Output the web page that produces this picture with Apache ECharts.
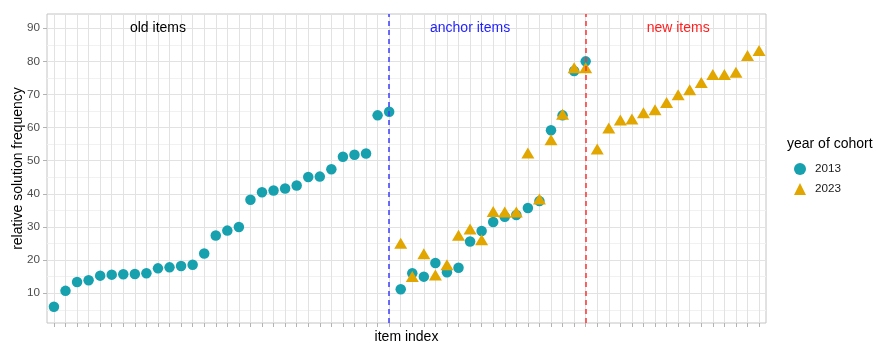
<!DOCTYPE html>
<html>
<head>
<meta charset="utf-8">
<script src="https://cdn.jsdelivr.net/npm/echarts@6/dist/echarts.min.js"></script>
<style>
  html, body { margin: 0; padding: 0; background: #ffffff; }
  #chart { width: 876px; height: 343px; }
</style>
</head>
<body>
<div id="chart"></div>
<script>
// Item indices and relative solution frequencies per cohort
const idx2013 = [
  1, 2, 3, 4, 5, 6, 7, 8, 9, 10, 11, 12, 13, 14, 15, 16, 17, 18, 19, 20,
  21, 22, 23, 24, 25, 26, 27, 28, 29, 30, 31, 32, 33, 34, 35, 36, 37, 38, 39, 40,
  41, 42, 43, 44, 45, 46, 47
];
const freq2013 = [
  5.9, 10.7, 13.4, 13.9, 15.3, 15.6, 15.7, 15.8, 16.0, 17.5, 17.8, 18.2, 18.6, 22.0, 27.4, 28.9, 30.0, 38.2, 40.5, 41.0,
  41.6, 42.5, 45.1, 45.2, 47.4, 51.2, 51.8, 52.2, 63.7, 64.8, 11.2, 16.0, 15.0, 19.1, 16.3, 17.7, 25.6, 28.8, 31.5, 33.1,
  33.6, 35.7, 37.8, 59.2, 63.7, 77.1, 80.0
];
const idx2023 = [
  31, 32, 33, 34, 35, 36, 37, 38, 39, 40, 41, 42, 43, 44, 45, 46,
  47, 48, 49, 50, 51, 52, 53, 54, 55, 56, 57, 58, 59, 60, 61, 62
];
const freq2023 = [
  24.5, 14.4, 21.3, 14.9, 18.0, 26.9, 28.8, 25.5, 34.1, 33.9, 33.9, 51.7, 37.8, 55.7, 63.4, 77.5,
  77.5, 52.9, 59.3, 61.7, 62.0, 63.9, 64.8, 67.0, 69.3, 70.8, 73.0, 75.4, 75.4, 76.1, 81.2, 82.7
];

// Block boundaries and block labels
const boundaryIdx = [30, 47];
const blockNames = ['old items', 'anchor items', 'new items'];
const blockNameIdx = [10, 37, 55];
const blockNameY = 90;

const itemTicks = idx2013.concat(idx2023.slice(idx2023.length - 15));
const yMajor = [10, 20, 30, 40, 50, 60, 70, 80, 90];
const yMinor = [5, 15, 25, 35, 45, 55, 65, 75, 85];

const FONT = '"Liberation Sans", Arial, Helvetica, sans-serif';
const colTeal = '#17a1ae';
const colGold = '#e2a600';
const blockColors = ['#000000', '#1f1fff', '#ff1f1f'];
const lineColors = ['#3d3dff', '#ff3030'];

const chart = echarts.init(document.getElementById('chart'), null, { renderer: 'canvas' });

const pts2013 = idx2013.map((x, i) => [x, freq2013[i]]);
const pts2023 = idx2023.map((x, i) => [x, freq2023[i]]);

const option = {
  animation: false,
  backgroundColor: '#ffffff',
  textStyle: { fontFamily: FONT },
  grid: {
    left: 47, right: 110, top: 14, bottom: 20,
    containLabel: false,
    outerBoundsMode: 'none',
    show: true, borderColor: '#c4c4c4', borderWidth: 1, backgroundColor: 'transparent'
  },
  xAxis: {
    type: 'value',
    min: 0.4, max: 62.6,
    name: 'item index',
    nameLocation: 'middle',
    nameGap: 7,
    nameMoveOverlap: false,
    nameTextStyle: { fontSize: 14, color: '#000000', fontFamily: FONT },
    axisLine: { show: false },
    axisTick: { show: true, length: 4, lineStyle: { color: '#b3b3b3', width: 1 }, customValues: itemTicks },
    axisLabel: { show: false },
    splitLine: { show: true, lineStyle: { color: '#e2e2e2', width: 1 } }
  },
  yAxis: [
    {
      type: 'value',
      min: 1.0, max: 94.3,
      name: 'relative solution frequency',
      nameLocation: 'middle',
      nameGap: 22,
      nameMoveOverlap: false,
      nameTextStyle: { fontSize: 14, color: '#000000', fontFamily: FONT },
      axisLine: { show: false },
      axisTick: { show: true, length: 4, lineStyle: { color: '#b3b3b3', width: 1 }, customValues: yMajor },
      axisLabel: { show: true, margin: 7, fontSize: 11.7, color: '#4d4d4d', fontFamily: FONT, customValues: yMajor },
      splitLine: { show: true, lineStyle: { color: '#e2e2e2', width: 1 } }
    },
    {
      type: 'value',
      min: 1.0, max: 94.3,
      position: 'left',
      axisLine: { show: false },
      axisTick: { show: false, customValues: yMinor },
      axisLabel: { show: false, customValues: yMinor },
      splitLine: { show: true, lineStyle: { color: '#f1f1f1', width: 1 } }
    }
  ],
  legend: {
    orient: 'vertical',
    left: 789, top: 158,
    itemWidth: 12, itemHeight: 12,
    itemGap: 8,
    textStyle: { fontSize: 11.7, color: '#1a1a1a', fontFamily: FONT, padding: [0, 0, 0, 4] },
    data: [
      { name: '2013', icon: 'circle' },
      { name: '2023', icon: 'triangle' }
    ]
  },
  graphic: [
    {
      type: 'text', left: 787, top: 137,
      style: { text: 'year of cohort', fontSize: 14, fill: '#000000', fontFamily: FONT }
    }
  ],
  series: [
    {
      name: '2013',
      type: 'scatter',
      symbol: 'circle',
      symbolSize: 10.5,
      itemStyle: { color: colTeal, opacity: 1 },
      data: pts2013,
      z: 3,
      markLine: {
        silent: true,
        symbol: 'none',
        label: { show: false },
        data: boundaryIdx.map((x, i) => ({
          xAxis: x,
          lineStyle: { color: lineColors[i], type: [5, 4], width: 1.5, opacity: 1 }
        }))
      }
    },
    {
      name: '2023',
      type: 'scatter',
      symbol: 'triangle',
      symbolSize: [13, 11],
      symbolOffset: [0, -2],
      itemStyle: { color: colGold, opacity: 1 },
      data: pts2023,
      z: 4
    },
    {
      name: 'blocks',
      type: 'scatter',
      symbolSize: 0,
      silent: true,
      data: blockNames.map((n, i) => ({
        name: n,
        value: [blockNameIdx[i], blockNameY],
        label: { color: blockColors[i] }
      })),
      label: {
        show: true,
        position: 'inside',
        formatter: p => p.name,
        fontSize: 14,
        fontFamily: FONT,
        textBorderWidth: 0,
        textBorderColor: 'transparent',
        opacity: 1
      }
    }
  ]
};

chart.setOption(option);
</script>
</body>
</html>
